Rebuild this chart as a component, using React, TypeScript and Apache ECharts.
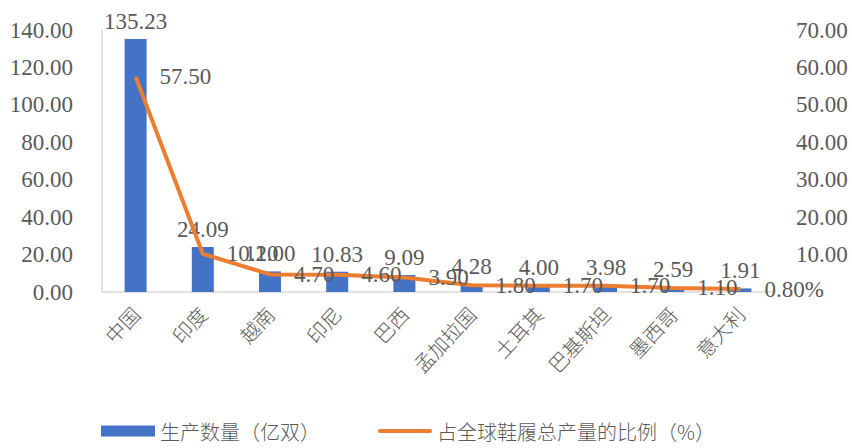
import React, { useEffect, useRef } from "react";
import * as echarts from "echarts";

const categories = ["中国", "印度", "越南", "印尼", "巴西", "孟加拉国", "土耳其", "巴基斯坦", "墨西哥", "意大利"];
const production = [135.23, 24.09, 11.0, 10.83, 9.09, 4.28, 4.0, 3.98, 2.59, 1.91];
const share = [57.5, 10.2, 4.7, 4.6, 3.9, 1.8, 1.7, 1.7, 1.1, 0.8];
const barName = "生产数量（亿双）";
const lineName = "占全球鞋履总产量的比例（%）";

const serif = "'Liberation Serif', 'Times New Roman', serif";
const cjk = "'Noto Sans CJK SC', sans-serif";
const textColor = "#595959";
const numSize = 23;

export default function App() {
  const ref = useRef<HTMLDivElement>(null);
  useEffect(() => {
    document.body.style.margin = "0";
    if (!ref.current) return;
    const chart = echarts.init(ref.current, undefined, { renderer: "svg" });
    chart.setOption({
      animation: false,
      grid: { left: 102, right: 78, top: 30, bottom: 156, containLabel: false },
      legend: {
        left: 96,
        top: 415,
        itemGap: 58,
        itemWidth: 54,
        itemHeight: 11,
        textStyle: { fontFamily: cjk, fontSize: 20, color: textColor, fontWeight: 300, lineHeight: 22 },
        data: [
          { name: barName, icon: "rect" },
          { name: lineName, icon: "path://M2,0 L54,0 A2,2 0 0 1 54,4 L2,4 A2,2 0 0 1 2,0 Z" },
        ],
      },
      xAxis: {
        type: "category",
        data: categories,
        axisLine: { lineStyle: { color: "#D9D9D9", width: 1.5 } },
        axisTick: { show: false },
        axisLabel: { rotate: 47, fontFamily: cjk, fontSize: 20, fontWeight: 300, color: textColor, margin: 18 },
      },
      yAxis: [
        {
          type: "value",
          min: 0,
          max: 140,
          interval: 20,
          axisLine: { show: true, lineStyle: { color: "#D9D9D9", width: 1.5 } },
          axisTick: { show: false },
          splitLine: { show: false },
          axisLabel: {
            margin: 29,
            fontFamily: serif,
            fontSize: numSize,
            color: textColor,
            formatter: (v: number) => v.toFixed(2),
          },
        },
        {
          type: "value",
          min: 0,
          max: 70,
          interval: 10,
          axisLine: { show: false },
          axisTick: { show: false },
          splitLine: { show: false },
          axisLabel: {
            margin: 22,
            showMinLabel: false,
            fontFamily: serif,
            fontSize: numSize,
            color: textColor,
            formatter: (v: number) => v.toFixed(2),
          },
        },
      ],
      series: [
        {
          name: barName,
          type: "bar",
          data: production,
          barWidth: 22,
          itemStyle: { color: "#4472C4" },
          label: {
            show: true,
            position: "top",
            distance: 6,
            fontFamily: serif,
            fontSize: numSize,
            color: textColor,
            formatter: (p: any) => Number(p.value).toFixed(2),
          },
        },
        {
          name: lineName,
          type: "line",
          yAxisIndex: 1,
          data: share,
          showSymbol: true,
          symbol: "circle",
          symbolSize: 0,
          lineStyle: { color: "#ED7D31", width: 4 },
          itemStyle: { color: "#ED7D31" },
          label: {
            show: true,
            position: "right",
            distance: 24,
            fontFamily: serif,
            fontSize: numSize,
            color: textColor,
            formatter: (p: any) =>
              p.dataIndex === share.length - 1 ? Number(p.value).toFixed(2) + "%" : Number(p.value).toFixed(2),
          },
        },
      ],
    });
    return () => chart.dispose();
  }, []);
  return <div ref={ref} style={{ width: 852, height: 448 }} />;
}
